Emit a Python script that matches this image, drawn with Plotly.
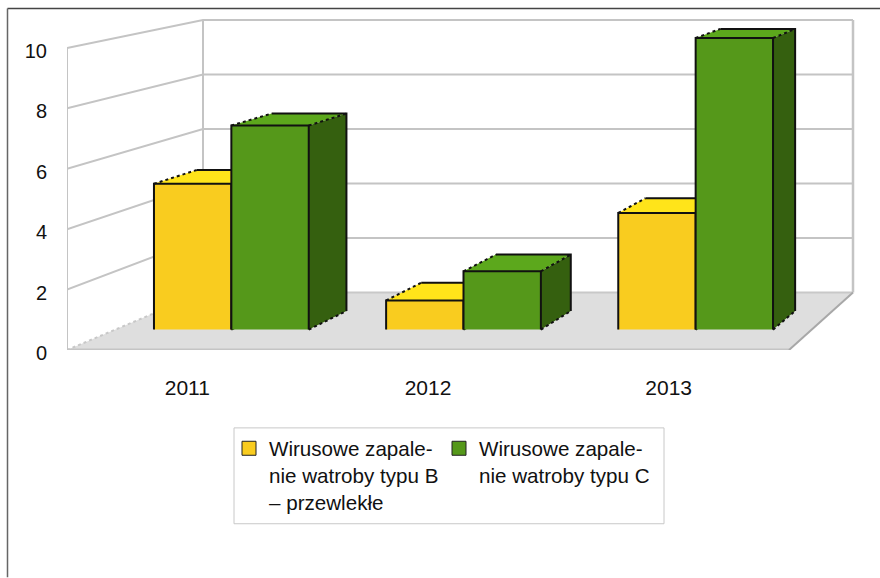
import plotly.graph_objects as go

categories = ["2011", "2012", "2013"]
series_b = [5, 1, 4]
series_c = [7, 2, 10]
name_b = "Wirusowe zapale-<br>nie watroby typu B<br>– przewlekłe"
name_c = "Wirusowe zapale-<br>nie watroby typu C"
y_ticks = [0, 2, 4, 6, 8, 10]

W, H = 880, 578
PLOT_L, PLOT_T, PLOT_B = 67, 10, 350.5
X_UNIT = (789 - 67) / 3
Y_UNIT = 30.25
BACK_L, BACK_R = (203 - 67) / X_UNIT, (853 - 67) / X_UNIT
BACK_SCALE = 27.3 / 30.25
FLOOR_RISE = 57.5 / 30.25
D_FRONT, D_BACK = 0.355, 0.68


def proj(x, v, d):
    xb = BACK_L + x * (BACK_R - BACK_L) / 3
    px = x + (xb - x) * d
    py = v * (1 + (BACK_SCALE - 1) * d) + FLOOR_RISE * d
    return px, py


def path(*pts):
    xs, ys = [], []
    for p in pts:
        if p is None:
            xs.append(None)
            ys.append(None)
        else:
            a, b = proj(*p)
            xs.append(a)
            ys.append(b)
    return xs, ys


fig = go.Figure()


def poly(pts, fill):
    xs, ys = path(*pts)
    fig.add_trace(go.Scatter(x=xs, y=ys, mode="lines", fill="toself", fillcolor=fill,
                             line=dict(width=0), showlegend=False, hoverinfo="skip",
                             cliponaxis=False))


def line(pts, color, width, dash="solid"):
    xs, ys = path(*pts)
    fig.add_trace(go.Scatter(x=xs, y=ys, mode="lines", line=dict(color=color, width=width, dash=dash),
                             showlegend=False, hoverinfo="skip", cliponaxis=False))


GRID = "#c4c4c4"
TOPV = max(y_ticks)

# floor
poly([(0, 0, 0), (3, 0, 0), (3, 0, 1), (0, 0, 1)], "#dedede")

# walls
for v in y_ticks[1:]:
    line([(0, v, 0), (0, v, 1), (3, v, 1)], GRID, 2)
line([(0, 0, 1), (3, 0, 1)], "#c8c8c8", 2)
line([(0, 0, 0), (0, 0, 1)], "#c8c8c8", 2, "dot")
line([(0, 0, 0), (0, TOPV, 0)], GRID, 2)
line([(0, 0, 1), (0, TOPV, 1)], GRID, 2)
line([(3, 0, 1), (3, TOPV, 1)], GRID, 2.5)
line([(0, 0, 0), (3, 0, 0)], GRID, 3)
line([(3, 0, 0), (3, 0, 1)], "#a8a8a8", 2)

# bars
EDGE = "#111111"


def bar(x0, x1, v, front, top, side):
    f, b = D_FRONT, D_BACK
    poly([(x0, v, f), (x1, v, f), (x1, v, b), (x0, v, b)], top)
    poly([(x1, 0, f), (x1, v, f), (x1, v, b), (x1, 0, b)], side)
    poly([(x0, 0, f), (x1, 0, f), (x1, v, f), (x0, v, f)], front)
    line([(x0, 0, f), (x0, v, f), (x1, v, f), (x1, 0, f), None,
          (x0, v, b), (x1, v, b), (x1, 0, b)], EDGE, 2)
    line([(x0, v, f), (x0, v, b), None, (x1, v, f), (x1, v, b), None,
          (x1, 0, f), (x1, 0, b)], EDGE, 2, "dot")


for i in range(len(categories)):
    bar(i + 1 / 6, i + 1 / 2, series_b[i], "#f9cc1f", "#ffe41a", "#b8960f")
    bar(i + 1 / 2, i + 5 / 6, series_c[i], "#55981a", "#5ca81c", "#35600f")

# legend entries
for name, col in [(name_b, "#f9cc1f"), (name_c, "#55981a")]:
    fig.add_trace(go.Scatter(x=[None], y=[None], mode="markers", name=name,
                             marker=dict(symbol="square", size=14, color=col,
                                         line=dict(color="#222222", width=1))))

plot_w = W - PLOT_L
plot_h = PLOT_B - PLOT_T


def paper_x(px):
    return (px - PLOT_L) / plot_w


def paper_y(py):
    return (PLOT_B - py) / plot_h


fig.update_layout(
    width=W, height=H, autosize=False,
    margin=dict(l=PLOT_L, r=0, t=PLOT_T, b=H - PLOT_B, pad=0),
    paper_bgcolor="white", plot_bgcolor="rgba(0,0,0,0)",
    font=dict(family="Liberation Sans", size=20, color="#111111"),
    xaxis=dict(range=[0, plot_w / X_UNIT], tickvals=[i + 0.5 for i in range(len(categories))],
               ticktext=categories, showgrid=False, zeroline=False, showline=False,
               ticks="", ticklabelstandoff=23, fixedrange=True,
               tickfont=dict(family="Liberation Sans", size=21, color="#111111")),
    yaxis=dict(range=[0, plot_h / Y_UNIT], tickvals=y_ticks, showgrid=False, zeroline=False,
               showline=False, ticks="", ticklabelstandoff=19, ticklabelshift=3, fixedrange=True),
    legend=dict(orientation="h", x=paper_x(229), y=paper_y(429), xanchor="left", yanchor="top",
                bgcolor="rgba(0,0,0,0)", borderwidth=0, valign="top",
                entrywidth=165, entrywidthmode="pixels", traceorder="normal",
                font=dict(size=20.6, family="Liberation Sans", color="#111111")),
    shapes=[
        dict(type="line", xref="paper", yref="paper", x0=paper_x(7.5), x1=paper_x(880),
             y0=paper_y(8.5), y1=paper_y(8.5), line=dict(color="#444444", width=1.5)),
        dict(type="line", xref="paper", yref="paper", x0=paper_x(7.5), x1=paper_x(7.5),
             y0=paper_y(8.5), y1=paper_y(578), line=dict(color="#666666", width=1.5)),
        dict(type="rect", xref="paper", yref="paper", x0=paper_x(234), x1=paper_x(664),
             y0=paper_y(428.5), y1=paper_y(524.5), line=dict(color="#c8c8c8", width=1),
             fillcolor="white", layer="below"),
    ],
)

fig.write_html("out.html", config={"displayModeBar": False},
               post_script="document.body.style.margin='0';")
